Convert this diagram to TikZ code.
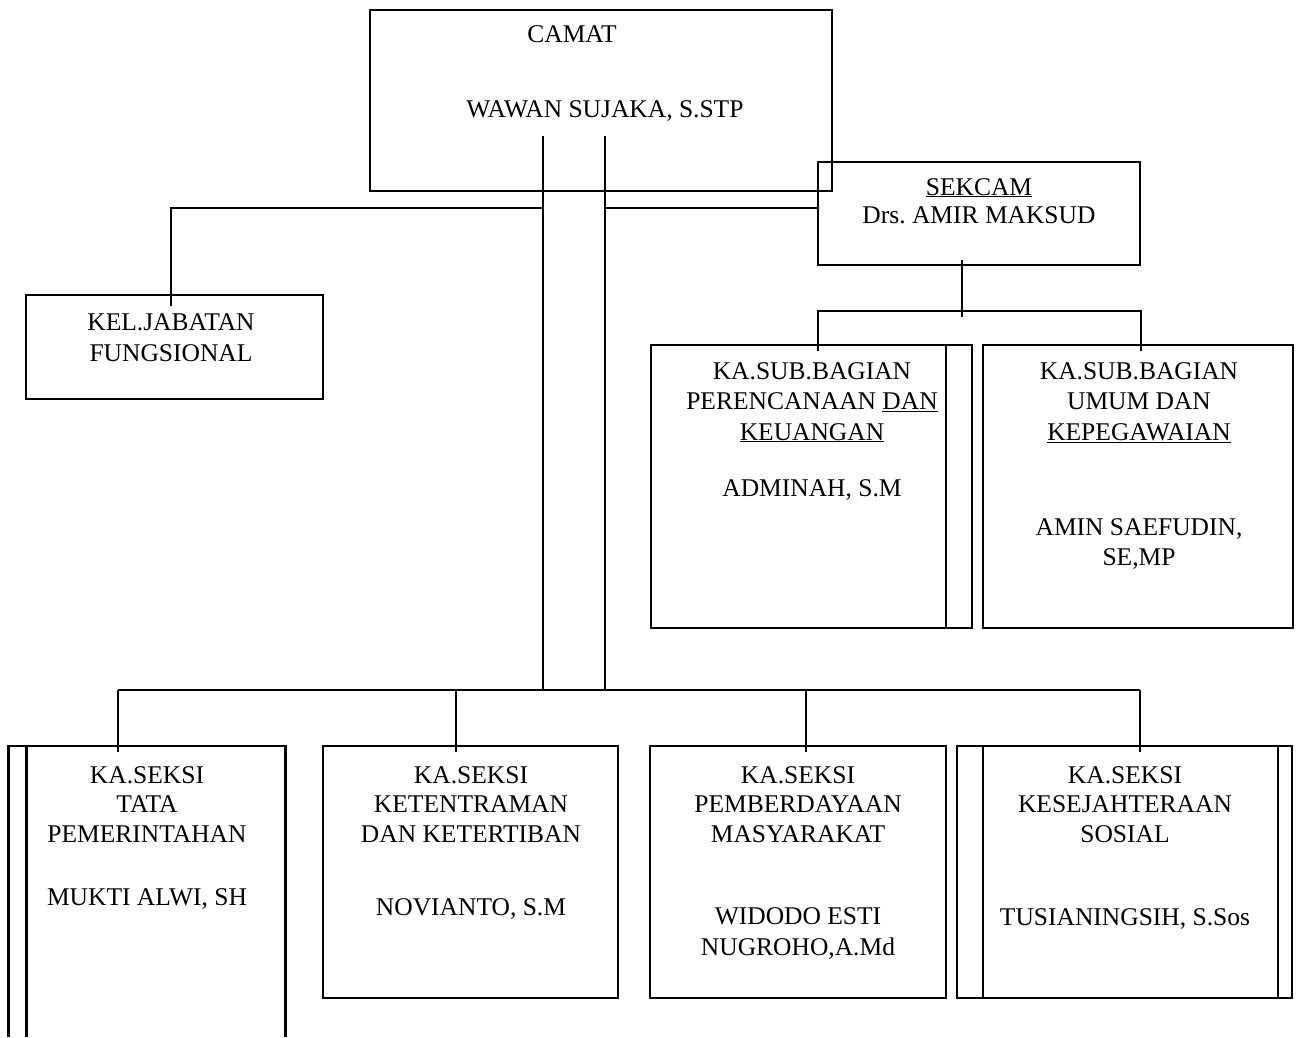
\documentclass[tikz,border=0pt]{standalone}
\usepackage{fontspec}
\setmainfont{Liberation Serif}
\frenchspacing
\begin{document}
\begin{tikzpicture}[x=1pt,y=-1pt,
  boxline/.style={line width=2.2pt},
  conn/.style={line width=1.6pt},
  frame/.style={draw, line width=2.2pt, inner sep=0pt, outer sep=0pt, anchor=north west},
  hidden/.style={inner sep=0pt, outer sep=0pt, anchor=north west},
  txt/.style={inner sep=0pt, anchor=base, font=\fontsize{25.5}{29.5}\selectfont}]
\useasboundingbox (0,0) rectangle (1301,1037);

% ---------- boxes ----------
\node[frame, minimum width=462pt, minimum height=181pt] (camat) at (370,10) {};
\node[frame, minimum width=322pt, minimum height=103pt] (sekcam) at (818,162) {};
\node[frame, minimum width=297pt, minimum height=104pt] (kel) at (26,295) {};
\node[frame, minimum width=321pt, minimum height=283pt] (subA) at (651,345) {};
\draw[boxline] ([xshift=-26pt]subA.north east) -- ([xshift=-26pt]subA.south east);
\node[frame, minimum width=310pt, minimum height=283pt] (subB) at (983,345) {};

\node[hidden, minimum width=277pt, minimum height=291pt] (sA) at (8.5,746) {};
\draw[boxline] (sA.south west) -- (sA.north west) -- (sA.north east) -- (sA.south east);
\draw[boxline] ([xshift=18pt]sA.north west) -- ([xshift=18pt]sA.south west);
\node[frame, minimum width=295pt, minimum height=252pt] (sB) at (323,746) {};
\node[frame, minimum width=296pt, minimum height=252pt] (sC) at (650,746) {};
\node[frame, minimum width=335pt, minimum height=252pt] (sD) at (957,746) {};
\draw[boxline] ([xshift=26pt]sD.north west) -- ([xshift=26pt]sD.south west);
\draw[boxline] ([xshift=-14pt]sD.north east) -- ([xshift=-14pt]sD.south east);

% ---------- connectors ----------
\coordinate (l1t) at (543,136); \coordinate (l1b) at (543,690);
\coordinate (l2t) at (605,136); \coordinate (l2b) at (605,690);
\draw[conn] (l1t) -- (l1b);
\draw[conn] (l2t) -- (l2b);

\coordinate (kelj) at (543,208);
\coordinate (keltop) at (171,306);
\draw[conn] (kelj) -| (keltop);

\coordinate (sekj) at (605,208);
\draw[conn] (sekj) -- (sekcam.west |- sekj);

\coordinate (sekb) at (962,260);
\coordinate (subbus) at (962,317);
\draw[conn] (sekb) -- (subbus);
\coordinate (subbusL) at (818,311);
\coordinate (subbusR) at (1141,311);
\coordinate (subAtop) at (818,351);
\coordinate (subBtop) at (1141,351);
\draw[conn] (subAtop) -- (subbusL) -- (subbusR) -- (subBtop);

\coordinate (busL) at (118,690);
\coordinate (busR) at (1140,690);
\draw[conn] (busL) -- (busR);
\coordinate (aTop) at (118,752);
\coordinate (bBus) at (456,690); \coordinate (bTop) at (456,752);
\coordinate (cBus) at (806,690); \coordinate (cTop) at (806,752);
\coordinate (dTop) at (1140,752);
\draw[conn] (busL) -- (aTop);
\draw[conn] (bBus) -- (bTop);
\draw[conn] (cBus) -- (cTop);
\draw[conn] (busR) -- (dTop);

% ---------- texts ----------
\node[txt] (t1) at (572,42) {CAMAT};
\node[txt] (t2) at (605,117) {WAWAN SUJAKA, S.STP};

\node[txt] (t3) at (979,195) {\underline{SEKCAM}};
\node[txt] (t4) at (979,223) {Drs. AMIR MAKSUD};

\node[txt] (t5) at (171,330) {KEL.JABATAN};
\node[txt] (t6) at (171,361) {FUNGSIONAL};

\node[txt] (t7) at (812,379) {KA.SUB.BAGIAN};
\node[txt] (t8) at (812,409.5) {PERENCANAAN \underline{DAN}};
\node[txt] (t9) at (812,440) {\underline{KEUANGAN}};
\node[txt] (t10) at (812,496) {ADMINAH, S.M};

\node[txt] (t11) at (1139,379) {KA.SUB.BAGIAN};
\node[txt] (t12) at (1139,409.5) {UMUM DAN};
\node[txt] (t13) at (1139,440) {\underline{KEPEGAWAIAN}};
\node[txt] (t14) at (1139,535) {AMIN SAEFUDIN,};
\node[txt] (t15) at (1139,565) {SE,MP};

\node[txt] (a1) at (147,783) {KA.SEKSI};
\node[txt] (a2) at (147,812.5) {TATA};
\node[txt] (a3) at (147,842) {PEMERINTAHAN};
\node[txt] (a4) at (147,905) {MUKTI ALWI, SH};

\node[txt] (b1) at (471,783) {KA.SEKSI};
\node[txt] (b2) at (471,812.5) {KETENTRAMAN};
\node[txt] (b3) at (471,842) {DAN KETERTIBAN};
\node[txt] (b4) at (471,915) {NOVIANTO, S.M};

\node[txt] (c1) at (798,783) {KA.SEKSI};
\node[txt] (c2) at (798,812.5) {PEMBERDAYAAN};
\node[txt] (c3) at (798,842) {MASYARAKAT};
\node[txt] (c4) at (798,924) {WIDODO ESTI};
\node[txt] (c5) at (798,955) {NUGROHO,A.Md};

\node[txt] (d1) at (1125,783) {KA.SEKSI};
\node[txt] (d2) at (1125,812.5) {KESEJAHTERAAN};
\node[txt] (d3) at (1125,842) {SOSIAL};
\node[txt] (d4) at (1125,925) {TUSIANINGSIH, S.Sos};
\end{tikzpicture}
\end{document}
